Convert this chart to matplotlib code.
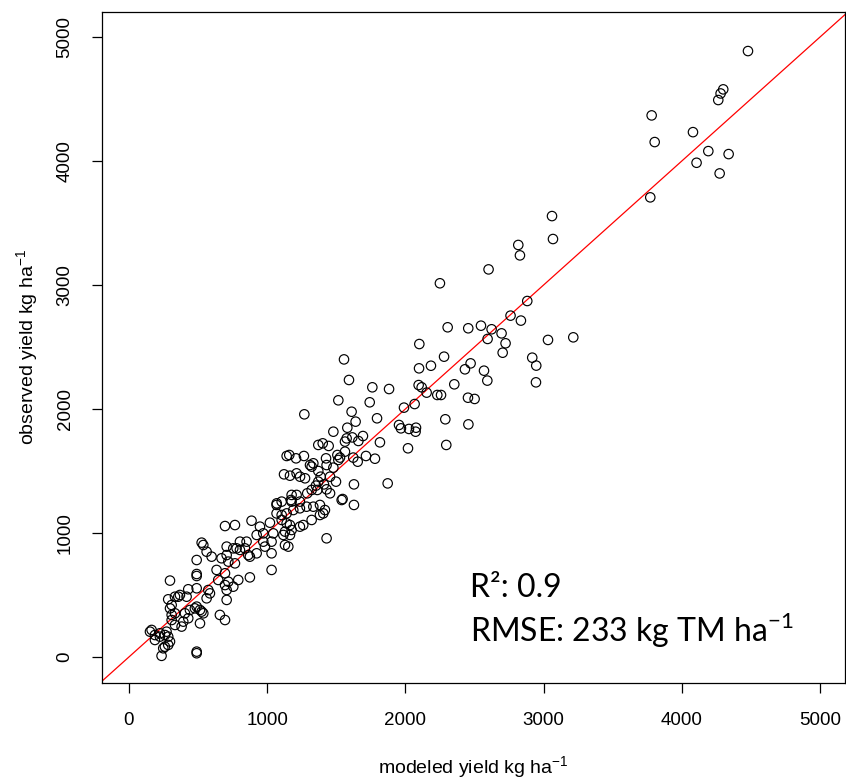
import numpy as np
import matplotlib
matplotlib.use("Agg")
import matplotlib.pyplot as plt

# modeled (x) vs observed (y) yield, kg/ha
modeled = [
    1068, 1105, 1177, 1237, 1285, 1334, 1382, 1418, 1539, 1141, 1105, 1189, 1068, 1237, 1406,
    695, 767, 887, 948, 1020, 924, 972, 1105, 1141, 1165, 1129, 1177, 1117, 1165, 1237,
    1261, 1322, 1382, 1430, 972, 1032, 1129, 1153, 851, 803, 779, 707, 526, 538, 562,
    598, 670, 707, 755, 803, 839, 863, 875, 924, 984, 1032, 1044,
    490, 719, 767, 634, 695, 490, 490, 1032, 875, 791, 719, 646, 297, 574, 586, 562,
    490, 429, 369, 357, 707, 695, 755, 707,
    284, 309, 297, 333, 417, 490, 514, 538, 477, 526, 441, 405, 309, 333, 429, 393,
    381, 333, 309, 514, 658, 695, 164, 152, 188, 224, 272,
    188, 224, 260, 284, 297, 284, 248, 260, 236, 490, 490,
    2101, 1556, 1592, 2185, 2099, 2280, 2472, 2431, 1761, 1882, 1515, 1742, 2096, 2118,
    2154, 2231, 2258, 2354, 2453, 2501, 1269, 1611, 1795, 1640, 1580, 1479, 1990, 2067,
    2289, 2456, 1954, 1968, 2026, 2077, 2074, 2296, 2019, 1816, 1693, 1616, 1575, 1563,
    1660, 1370, 1402, 1445, 1508, 1527, 1515, 1563, 1623, 1655, 1715, 1780, 1266, 1141,
    1160, 1209, 1426, 1310, 1334, 1322, 1430, 1479, 1122, 1165, 1213, 1238, 1274, 1370,
    1387, 1455, 1498, 1628, 1872, 1370, 1353, 1411, 1322, 1363, 1290, 1177, 1213, 1172,
    1430, 1455, 1546, 1628, 1069,
    2817, 2829, 2602, 2250, 3068, 3061, 2882, 2761, 2836, 2306, 2455, 2547, 2624, 2595,
    2696, 2725, 2704, 3032, 3215, 2918, 2947, 2945, 2569, 2593,
    4479, 4300, 4281, 4264, 3782, 3804, 4081, 4192, 4107, 4339, 4274, 3772,
]
observed = [
    1226, 1253, 1253, 1253, 1212, 1212, 1226, 1185, 1266, 1158, 1145, 1185, 1158, 1199, 1158,
    1056, 1064, 1099, 1051, 1083, 984, 997, 1105, 1078, 1064, 1011, 1024, 984, 984, 1051,
    1064, 1105, 1145, 957, 930, 930, 903, 890, 930, 930, 876, 890, 922, 903, 849,
    809, 796, 822, 876, 863, 876, 822, 809, 836, 890, 836, 997,
    782, 769, 755, 702, 675, 669, 653, 702, 642, 621, 607, 621, 616, 540, 513, 473,
    554, 546, 500, 486, 540, 580, 567, 460,
    465, 419, 392, 486, 486, 406, 379, 352, 392, 366, 379, 352, 339, 352, 312, 285,
    245, 258, 298, 271, 339, 298, 218, 204, 177, 191, 204,
    137, 164, 177, 164, 124, 97, 70, 83, 9, 43, 30,
    2524, 2400, 2234, 2349, 2328, 2422, 2368, 2320, 2175, 2161, 2070, 2054, 2193, 2175,
    2132, 2113, 2113, 2199, 2091, 2081, 1957, 1978, 1925, 1898, 1849, 1817, 2011, 2040,
    1917, 1876, 1871, 1844, 1839, 1849, 1817, 1710, 1683, 1731, 1782, 1771, 1763, 1737,
    1742, 1710, 1723, 1702, 1629, 1608, 1589, 1656, 1608, 1575, 1621, 1599, 1621, 1621,
    1629, 1602, 1602, 1548, 1562, 1535, 1548, 1527, 1473, 1462, 1481, 1454, 1441, 1500,
    1454, 1454, 1414, 1392, 1400, 1414, 1382, 1392, 1347, 1347, 1320, 1307, 1307, 1266,
    1352, 1320, 1274, 1226, 1239,
    3323, 3239, 3126, 3014, 3371, 3556, 2871, 2753, 2713, 2659, 2651, 2672, 2643, 2565,
    2610, 2530, 2454, 2557, 2578, 2414, 2350, 2215, 2309, 2229,
    4887, 4578, 4545, 4492, 4368, 4153, 4233, 4080, 3986, 4056, 3900, 3707,
]
ticks = [0, 1000, 2000, 3000, 4000, 5000]
r2_text = "R²: 0.9"
rmse_text = "RMSE: 233 kg TM ha$^{\\mathregular{-1}}$"

plt.rcParams['font.family'] = ['Liberation Sans', 'DejaVu Sans']

fig = plt.figure(figsize=(8.46, 7.8), dpi=100)
ax = fig.add_axes([102/846, 97/780, 743/846, 671/780])

ax.scatter(modeled, observed, s=46, facecolors='none', edgecolors='black', linewidths=0.85, zorder=3)
# 1:1 line
ax.axline((0, 0), slope=1, color='red', lw=0.9, zorder=2)

ax.set_xlim(-195, 5181)
ax.set_ylim(-210, 5202)
ax.set_xticks(ticks)
ax.set_yticks(ticks)
ax.tick_params(direction='out', length=7, width=0.9, labelsize=13.5, colors='black')
ax.tick_params(axis='x', pad=14)
ax.tick_params(axis='y', pad=13.5)
for lab in ax.get_yticklabels():
    lab.set_rotation(90)
    lab.set_va('center')
for s in ax.spines.values():
    s.set_linewidth(0.9)

ax.set_xlabel("modeled yield kg ha$^{\\mathregular{-1}}$", fontsize=14, labelpad=18)
ax.set_ylabel("observed yield kg ha$^{\\mathregular{-1}}$", fontsize=14, labelpad=11)

ax.text(2470, 484, r2_text, fontsize=23, family=['Lato', 'DejaVu Sans'], va='baseline', ha='left')
ax.text(2470, 121, rmse_text, fontsize=23, family=['Lato', 'DejaVu Sans'], va='baseline', ha='left')

fig.savefig("out.png", dpi=100)
